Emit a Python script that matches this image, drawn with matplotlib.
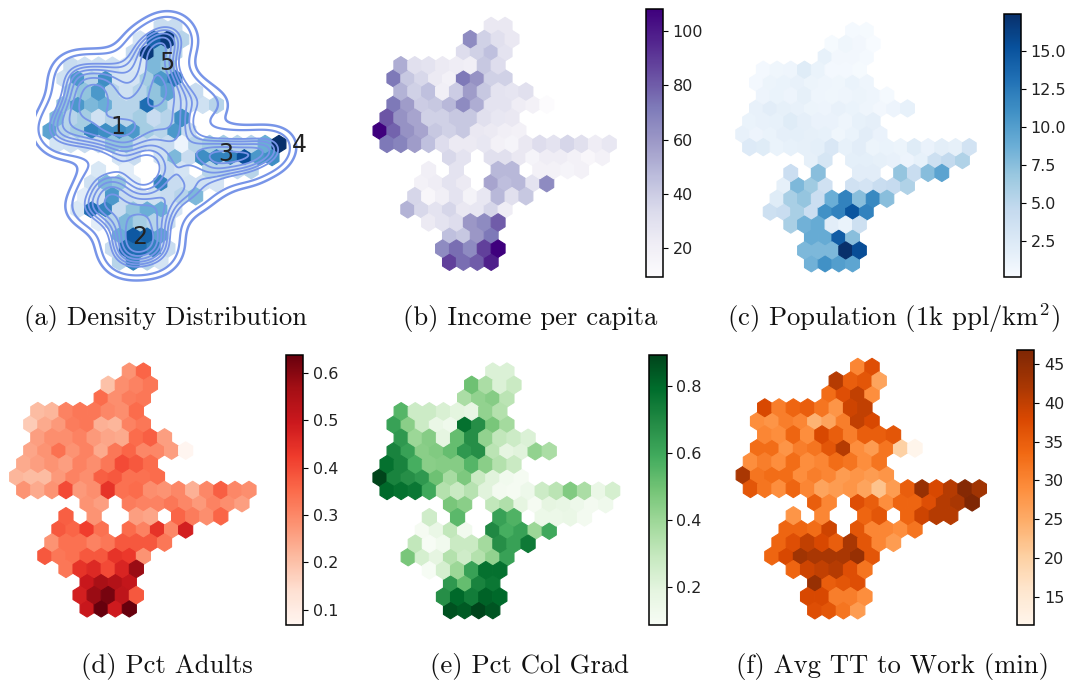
import numpy as np
import matplotlib
matplotlib.use("Agg")
from matplotlib import pyplot as plt
from matplotlib.colors import PowerNorm

plt.rcParams['mathtext.fontset'] = 'cm'

W = 1070
H = 681

# hexagon columns (half steps) used on each row, top row first
hex_rows = [
    [16, 18],
    [13, 15, 17, 19],
    [12, 14, 16, 18],
    [3, 5, 7, 9, 11, 13, 15, 17],
    [2, 4, 6, 8, 10, 12, 14, 16, 18],
    [3, 5, 7, 9, 11, 13, 15, 17, 19, 21],
    [2, 4, 6, 8, 10, 12, 14, 16, 18, 20, 22, 24],
    [1, 3, 5, 7, 9, 11, 13, 15, 17, 19],
    [0, 2, 4, 6, 8, 10, 12, 14, 16, 18, 20],
    [1, 3, 5, 7, 9, 11, 13, 15, 17, 19, 21, 23, 25, 27, 29, 31, 33],
    [10, 12, 16, 18, 20, 22, 24, 26, 28, 30, 32],
    [7, 11, 17, 19, 23, 25, 27, 29],
    [6, 8, 10, 12, 16, 18, 20, 22, 24],
    [5, 7, 9, 11, 13, 15, 17, 19, 21],
    [4, 6, 8, 10, 12, 14, 16, 18],
    [7, 9, 11, 13, 15, 17],
    [10, 12, 14, 16],
    [9, 11, 13, 15, 17],
    [10, 12, 14, 16],
]

density = [
    .15, .15,
    .1, .75, .95, .2,
    .15, .95, .35, .2,
    .15, .12, .12, .12, .08, .08, .35, .3,
    .12, .5, .2, .55, .1, .1, .25, .5, .65,
    .25, .3, .5, .2, .12, .2, .3, .45, .15, .15,
    .3, .5, .35, .4, .2, .2, .7, .3, .15, .12, .12, .2,
    .35, .2, .25, .12, .2, .2, .25, .15, .2, .55,
    .45, .2, .25, .6, .55, .55, .5, .25, .2, .5, .15,
    .1, .12, .15, .15, .3, .3, .15, .12, .15, .02, .2, .25, .25, .2, .2, .4, 1.0,
    .1, .15, .12, .35, .15, .55, .6, .6, .85, .5, .55,
    .08, .05, .15, .1, .2, .2, .15, .2,
    .12, .35, .3, .05, .6, .15, .12, .12, .1,
    .05, .12, .5, .15, .12, .12, .15, .2, .35,
    .08, .7, .6, .15, .3, .4, .4, .1,
    .05, .2, .35, .25, .2, .15,
    .4, .8, .75, .45,
    .15, .7, .7, .6, .15,
    .2, .6, .2, .1,
]

income = [
    25, 25,
    65, 38, 30, 25,
    32, 38, 45, 28,
    52, 30, 28, 24, 22, 20, 42, 32,
    72, 42, 35, 24, 18, 72, 62, 38, 38,
    50, 38, 45, 20, 40, 58, 42, 28, 27, 30,
    72, 58, 40, 42, 48, 65, 52, 28, 28, 22, 18, 9.5,
    82, 62, 55, 38, 38, 42, 42, 30, 26, 25,
    108, 78, 62, 55, 42, 38, 42, 25, 24, 20, 18,
    72, 68, 58, 45, 32, 24, 24, 26, 18, 16, 25, 32, 28, 36, 30, 22, 26,
    35, 28, 30, 30, 25, 16, 22, 22, 18, 14, 18,
    20, 28, 48, 48, 18, 18, 16, 18,
    18, 22, 28, 24, 55, 46, 48, 28, 65,
    36, 14, 20, 28, 17, 26, 48, 30, 42,
    50, 35, 28, 36, 25, 26, 36, 22,
    24, 28, 32, 60, 65, 80,
    45, 42, 60, 72,
    65, 75, 65, 88, 108,
    88, 75, 80, 98,
]

population = [
    0.4, 0.3,
    0.3, 0.8, 0.6, 0.11,
    1.5, 0.6, 0.6, 0.4,
    0.5, 0.8, 0.9, 2.2, 1.2, 0.5, 0.5, 0.3,
    0.5, 1.1, 1.2, 1.4, 1.1, 0.9, 0.8, 1.2, 0.9,
    1.0, 1.2, 1.0, 1.6, 0.9, 0.8, 0.9, 1.1, 0.9, 0.4,
    1.4, 2.0, 1.6, 1.4, 1.1, 1.0, 1.4, 1.2, 0.9, 0.6, 1.0, 1.5,
    1.2, 1.4, 1.5, 2.2, 1.7, 1.3, 1.3, 0.9, 1.5, 1.7,
    1.4, 1.0, 1.2, 1.7, 1.8, 1.6, 1.5, 0.8, 1.2, 2.0, 1.3,
    2.4, 2.2, 1.2, 1.5, 1.6, 1.8, 2.8, 1.5, 2.0, 1.1, 1.2, 1.1, 2.2, 1.3, 1.9, 1.6, 3.4,
    1.6, 3.0, 1.8, 1.8, 1.6, 1.4, 1.0, 1.5, 3.8, 4.6, 5.6,
    4.0, 7.5, 2.0, 2.0, 7.0, 4.2, 7.6, 9.6,
    1.6, 8.0, 6.5, 3.6, 3.6, 3.2, 4.2, 4.5, 5.6,
    2.2, 6.0, 7.0, 4.0, 8.8, 12.0, 7.5, 11.5, 7.5,
    3.8, 4.2, 6.0, 4.0, 11.0, 12.0, 15.0, 12.0,
    6.0, 8.5, 9.0, 2.0, 1.2, 3.8,
    9.0, 9.0, 14.5, 7.5,
    8.0, 8.0, 8.0, 17.43, 15.5,
    8.5, 11.0, 10.0, 9.5,
]

pct_adults = [
    .28, .36,
    .20, .29, .31, .33,
    .35, .29, .32, .33,
    .21, .22, .31, .33, .33, .30, .29, .35,
    .18, .24, .27, .32, .33, .23, .22, .31, .33,
    .26, .29, .29, .31, .27, .25, .24, .35, .37, .26,
    .25, .28, .34, .28, .31, .24, .33, .36, .30, .30, .26, .068,
    .24, .26, .28, .26, .31, .29, .33, .40, .38, .35,
    .22, .21, .21, .27, .31, .29, .37, .38, .34, .34, .35,
    .28, .24, .28, .40, .27, .29, .44, .34, .35, .29, .28, .30, .23, .30, .37, .30, .29,
    .28, .26, .32, .31, .31, .33, .30, .27, .31, .29, .26,
    .37, .28, .26, .25, .36, .32, .29, .36,
    .38, .36, .42, .34, .35, .31, .44, .30, .48,
    .28, .34, .34, .31, .33, .38, .38, .38, .33,
    .38, .33, .34, .38, .38, .44, .43, .28,
    .33, .44, .46, .40, .47, .58,
    .50, .56, .54, .51,
    .48, .58, .62, .52, .38,
    .50, .638, .49, .638,
]

pct_col_grad = [
    .22, .22,
    .50, .36, .22, .28,
    .36, .42, .45, .32,
    .55, .27, .27, .23, .19, .17, .42, .34,
    .62, .44, .27, .16, .13, .78, .68, .48, .38,
    .65, .40, .45, .18, .52, .68, .42, .30, .27, .22,
    .72, .62, .44, .46, .52, .65, .68, .32, .18, .20, .42, .36,
    .78, .72, .58, .44, .45, .45, .55, .44, .34, .28,
    .894, .72, .68, .65, .50, .37, .47, .28, .20, .12, .10,
    .80, .78, .76, .60, .34, .28, .33, .20, .11, .10, .14, .27, .32, .46, .36, .16, .24,
    .48, .44, .30, .35, .18, .10, .18, .17, .14, .11, .13,
    .26, .54, .62, .56, .15, .15, .16, .11,
    .10, .16, .30, .12, .70, .58, .62, .40, .60,
    .30, .085, .12, .28, .28, .38, .68, .62, .75,
    .48, .24, .18, .34, .26, .34, .42, .62,
    .09, .24, .40, .62, .78, .78,
    .65, .52, .72, .76,
    .68, .80, .74, .82, .80,
    .86, .84, .894, .85,
]

avg_travel_time = [
    30, 37,
    41, 35, 36, 26,
    33, 37, 40, 29,
    38, 31, 34, 35, 32, 28, 39, 40,
    29, 28, 31, 30, 24, 26, 31, 40, 38,
    30, 29, 34, 29, 38, 35, 31, 35, 35, 36,
    33, 33, 28, 31, 32, 36, 41, 29, 27, 32, 20, 11.35,
    29, 31, 29, 33, 29, 30, 33, 32, 29, 32,
    42, 32, 33, 33, 29, 31, 30, 27, 28, 27, 28,
    36, 32, 29, 34, 30, 26, 27, 28, 26, 22, 27, 35, 44, 38, 41, 46, 43,
    35, 30, 37, 35, 29, 34, 34, 37, 41, 42, 46.8,
    28, 30, 34, 36, 34, 39, 41, 41,
    34, 34, 33, 39, 36, 30, 30, 29, 32,
    34, 37, 40, 38, 35, 42, 36, 30, 27,
    34, 38, 43, 42, 42, 42, 44, 36,
    34, 39, 40, 41, 37, 32,
    44, 35, 36, 37,
    38, 38, 31, 31, 29,
    37, 36, 32, 27,
]

income_ticks = [20, 40, 60, 80, 100]
population_ticks = [2.5, 5.0, 7.5, 10.0, 12.5, 15.0]
adults_ticks = [0.1, 0.2, 0.3, 0.4, 0.5, 0.6]
grad_ticks = [0.2, 0.4, 0.6, 0.8]
travel_ticks = [15, 20, 25, 30, 35, 40, 45]

density_labels = ["1", "2", "3", "4", "5"]
density_label_x = [9.8, 13.0, 25.3, 36.0, 16.8]
density_label_y = [10.3, 1.85, 8.2, 8.95, 15.2]

# hexagon centres, y counts up from the bottom row
hex_x = []
hex_y = []
for i in range(len(hex_rows)):
    for c in hex_rows[i]:
        hex_x.append(c)
        hex_y.append(18 - i)
hex_x = np.array(hex_x, dtype=float)
hex_y = np.array(hex_y, dtype=float)

fig = plt.figure(figsize=(W / 100, H / 100), dpi=100)


# axes from pixel box, left/right/top/bottom measured on the picture
def pixel_axes(x0, x1, y0, y1):
    return fig.add_axes([x0 / W, 1 - y1 / H, (x1 - x0) / W, (y1 - y0) / H])


# makes a hex map where col 0 / col 33 and row 0 / row 18 land on given pixels
def hex_axes(col0, col33, row0, row18):
    sx = (col33 - col0) / 33
    sy = (row18 - row0) / 18
    ax = pixel_axes(col0 - 2 * sx, col0 + 38 * sx, row0 - 2 * sy, row18 + 2 * sy)
    return ax


def draw_hex(ax, values, cmap, norm=None):
    hb = ax.hexbin(hex_x, hex_y, C=values, gridsize=(18, 10), extent=(0, 36, 0, 20),
                   cmap=cmap, linewidths=0.8, norm=norm)
    ax.set_xlim(-2, 38)
    ax.set_ylim(-2, 20)
    ax.axis("off")
    return hb


# panel (a), hexes with contours of a smoothed density
ax = hex_axes(50, 279, 26.5, 261.5)
draw_hex(ax, density, "Blues", norm=PowerNorm(0.75, vmin=0, vmax=1))
gx, gy = np.meshgrid(np.linspace(-6, 42, 400), np.linspace(-4, 22, 300))
weight = np.minimum(density, .45) ** 0.45 + 0.1
smooth = np.zeros_like(gx)
for x, y, d in zip(hex_x, hex_y, weight):
    smooth += d * np.exp(-((gx - x) / 2.0) ** 2 / 2 - ((gy - y) / 0.95) ** 2 / 2)
smooth = smooth / smooth.max()
ax.contour(gx, gy, smooth, levels=[.13, .24, .5, .58, .66, .74, .82, .9],
           colors="#7895e8", linewidths=[1.8, 1.6, 1.3, 1.3, 1.3, 1.3, 1.3, 1.3])
for t, x, y in zip(density_labels, density_label_x, density_label_y):
    ax.text(x, y, t, fontsize=17, color="#222222", ha="center", va="center")

# colour panels: values, colormap, ticks, hex box, colourbar box
panels = [
    (income, "Purples", income_ticks, (380, 609.3, 26, 261.7), (645.7, 662.7, 9.3, 276.7), None),
    (population, "Blues", population_ticks, (742.7, 969.3, 31, 263.3), (1004, 1020.7, 14, 277.3), "%.1f"),
    (pct_adults, "Reds", adults_ticks, (16.7, 249, 371.7, 608.3), (286, 303.3, 354.7, 625), "%.1f"),
    (pct_col_grad, "Greens", grad_ticks, (380, 612.7, 371.7, 610), (649.3, 666.7, 354.7, 625), "%.1f"),
    (avg_travel_time, "Oranges", travel_ticks, (743.3, 979.3, 367.3, 610), (1017, 1034.3, 350, 625), None),
]
for values, cmap, ticks, box, cbox, fmt in panels:
    ax = hex_axes(*box)
    hb = draw_hex(ax, values, cmap)
    cax = pixel_axes(*cbox)
    cb = fig.colorbar(hb, cax=cax, ticks=ticks, format=fmt)
    cb.ax.tick_params(labelsize=11.5, labelcolor="#222222", length=3.5)
    cb.outline.set_linewidth(1.1)

captions = [
    "(a) Density Distribution",
    "(b) Income per capita",
    "(c) Population (1k ppl/km$^2$)",
    "(d) Pct Adults",
    "(e) Pct Col Grad",
    "(f) Avg TT to Work (min)",
]
caption_x = [166, 530, 893, 167, 530, 892.5]
caption_y = [318, 318, 318, 666, 666, 666]
for t, x, y in zip(captions, caption_x, caption_y):
    fig.text(x / W, 1 - y / H, t, family="cmr10", fontsize=19.2, ha="center", va="center", color="#111111")

fig.savefig("out.png", dpi=100)
